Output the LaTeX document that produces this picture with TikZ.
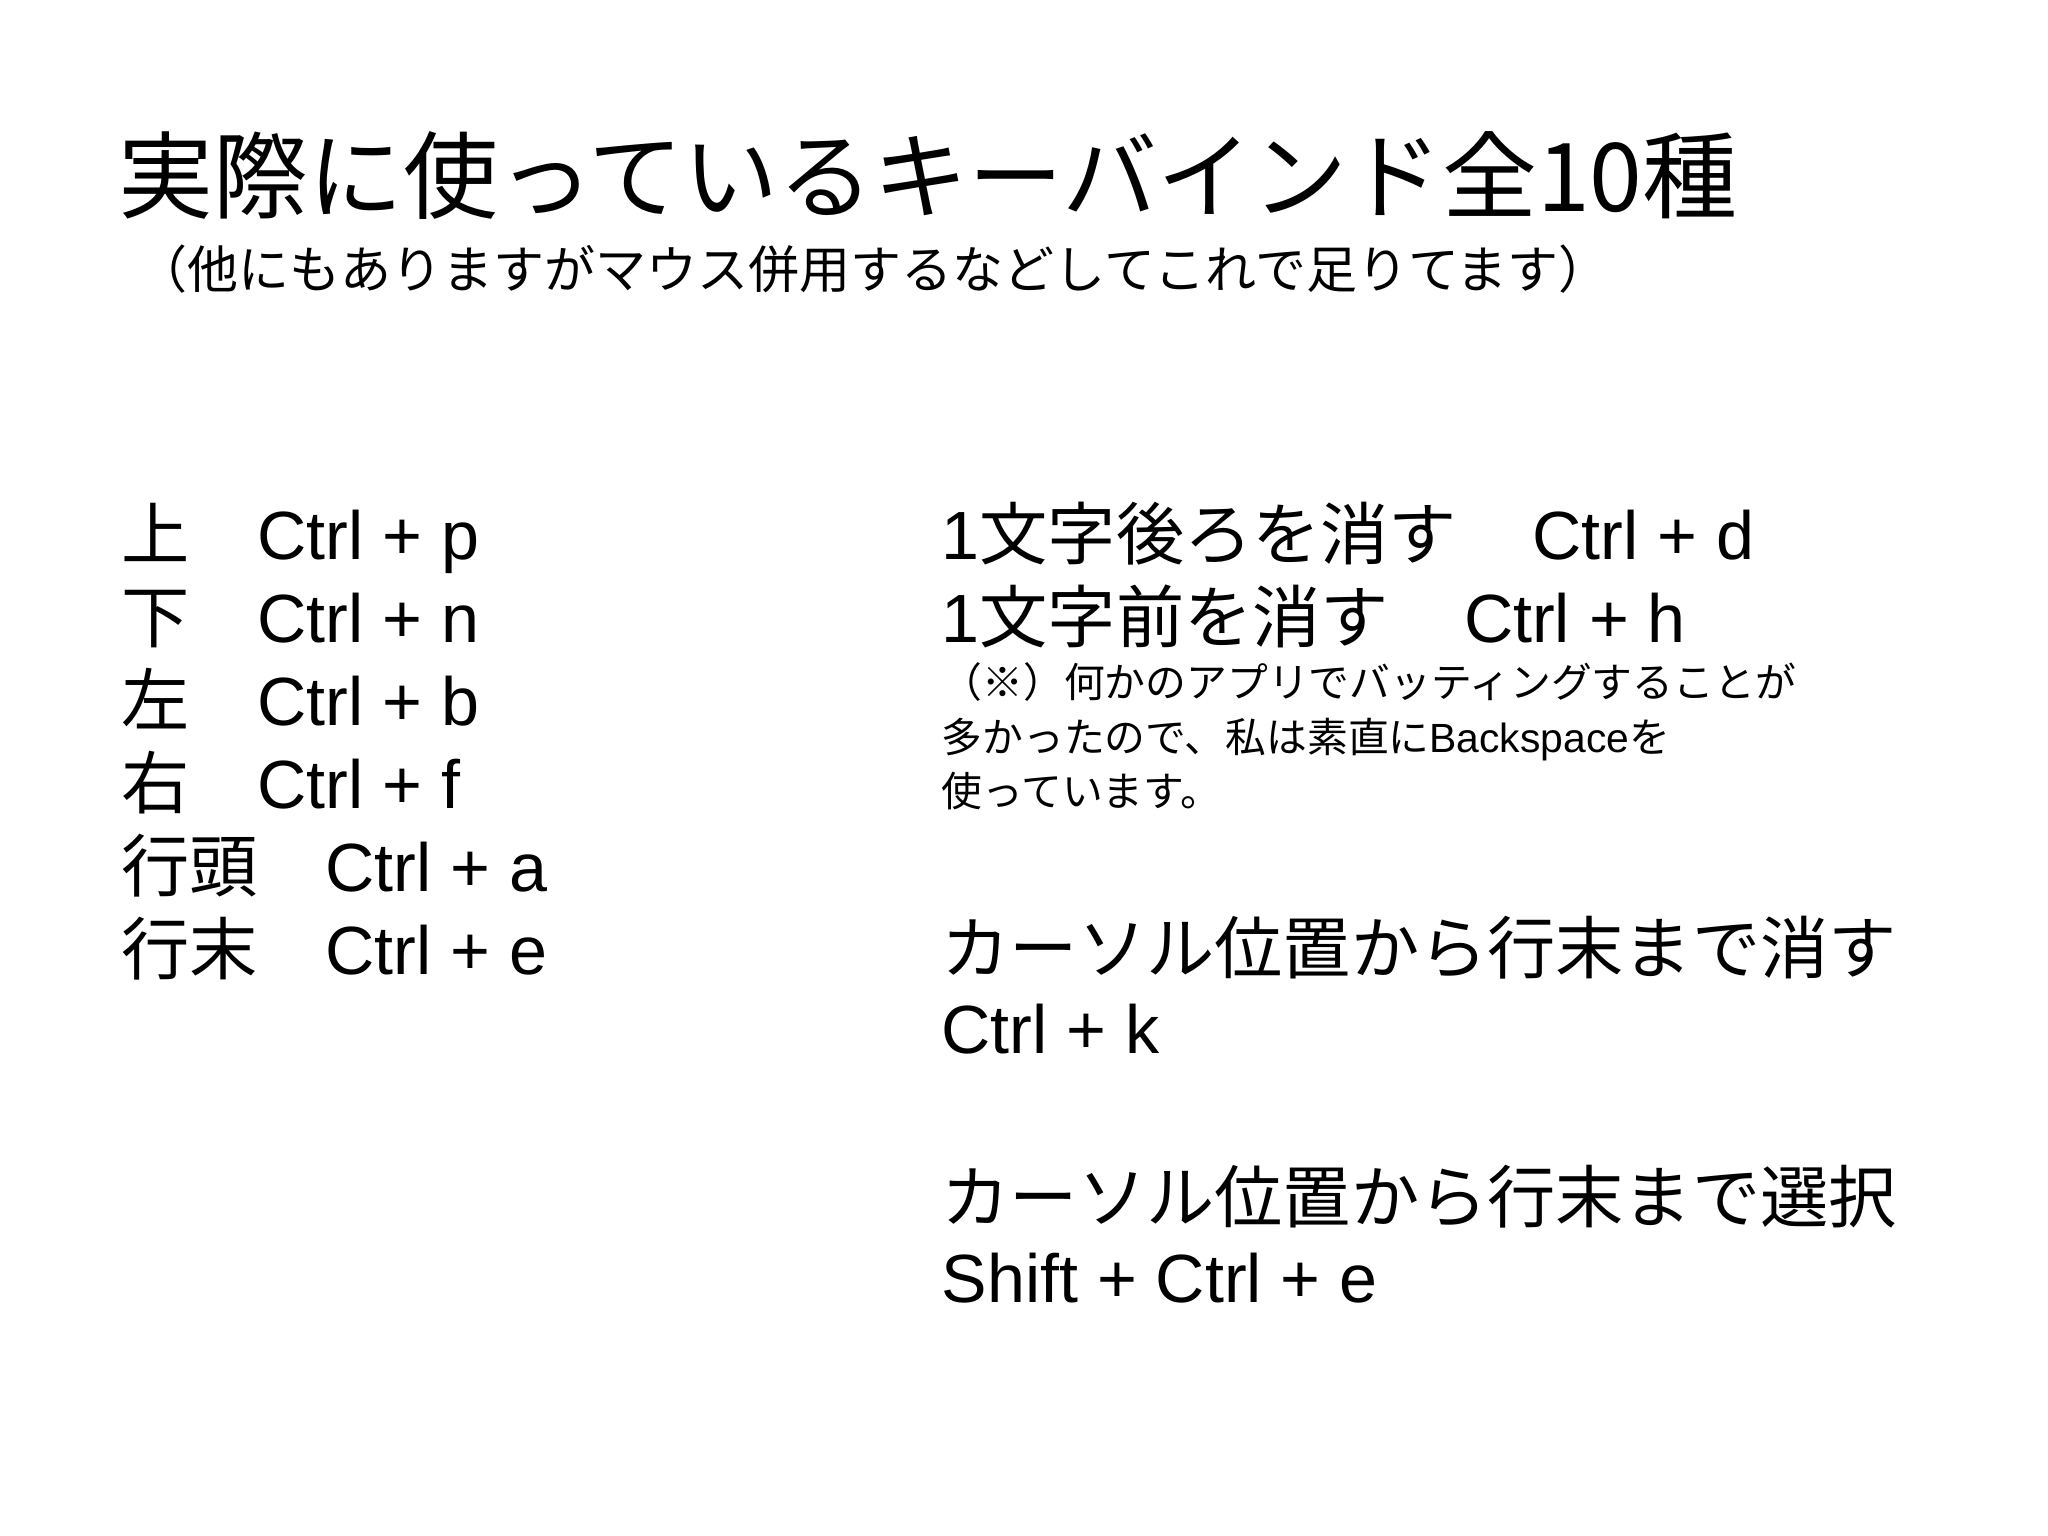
\documentclass[tikz,border=0pt]{standalone}
\usepackage{fontspec}
\setmainfont{Liberation Sans}
\newfontfamily\jp{Noto Sans CJK JP}
\begin{document}
\begin{tikzpicture}[x=0.01cm,y=-0.01cm,
  t/.style={anchor=base west,inner sep=0pt,font=\fontsize{19.4pt}{24pt}\selectfont},
  s/.style={anchor=base west,inner sep=0pt,font=\fontsize{11.6pt}{14pt}\selectfont}]
\useasboundingbox (0,0) rectangle (2048,1536);
\node[anchor=base west,inner sep=0pt,font=\fontsize{27pt}{30pt}\selectfont] (title) at (118,211) {\jp 実際に使っているキーバインド全10種};
\node[anchor=base west,inner sep=0pt,font=\fontsize{14.5pt}{18pt}\selectfont] (sub) at (136,288) {\jp （他にもありますがマウス併用するなどしてこれで足りてます）};
\node[t] (k1) at (121,559) {\jp 上};  \node[t] (c1) at (257,559) {Ctrl + p};
\node[t] (k2) at (121,642) {\jp 下};  \node[t] (c2) at (257,642) {Ctrl + n};
\node[t] (k3) at (121,725) {\jp 左};  \node[t] (c3) at (257,725) {Ctrl + b};
\node[t] (k4) at (121,808) {\jp 右};  \node[t] (c4) at (257,808) {Ctrl + f};
\node[t] (k5) at (121,891) {\jp 行頭}; \node[t] (c5) at (325,891) {Ctrl + a};
\node[t] (k6) at (121,974) {\jp 行末}; \node[t] (c6) at (325,974) {Ctrl + e};
\node[t] (r1) at (941,559) {1{\jp 文字後ろを消す}\hspace{1.1em}Ctrl + d};
\node[t] (r2) at (941,642) {1{\jp 文字前を消す}\hspace{1.1em}Ctrl + h};
\node[s] (n1) at (941,697) {\jp （※）何かのアプリでバッティングすることが};
\node[s] (n2) at (941,752) {{\jp 多かったので、私は素直に}Backspace{\jp を}};
\node[s] (n3) at (941,806) {\jp 使っています。};
\node[t] (r3) at (941,973) {\jp カーソル位置から行末まで消す};
\node[t] (r4) at (941,1053) {Ctrl + k};
\node[t] (r5) at (941,1222) {\jp カーソル位置から行末まで選択};
\node[t] (r6) at (941,1302) {Shift + Ctrl + e};
\end{tikzpicture}
\end{document}
